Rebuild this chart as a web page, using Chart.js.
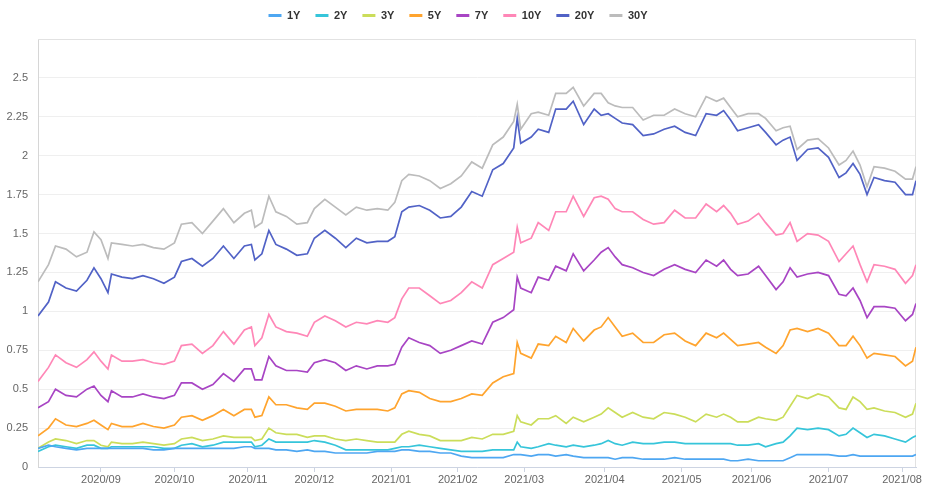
<!DOCTYPE html>
<html>
<head>
<meta charset="utf-8">
<script src="https://cdn.jsdelivr.net/npm/chart.js@4.4.1/dist/chart.umd.min.js"></script>
<style>
html, body { margin: 0; padding: 0; background: #fff; }
</style>
</head>
<body>
<canvas id="myChart" width="927" height="489"></canvas>
<script>
// sample dates (trading days)
var dates = [
  '2020-08-06','2020-08-11','2020-08-13','2020-08-18','2020-08-21','2020-08-26','2020-08-28',
  '2020-09-01','2020-09-03','2020-09-04','2020-09-10','2020-09-15','2020-09-18','2020-09-23','2020-09-28',
  '2020-10-01','2020-10-05','2020-10-08','2020-10-14','2020-10-19','2020-10-22','2020-10-27','2020-10-30',
  '2020-11-03','2020-11-04','2020-11-06','2020-11-10','2020-11-13','2020-11-18','2020-11-23','2020-11-27',
  '2020-12-01','2020-12-04','2020-12-09','2020-12-14','2020-12-17','2020-12-22','2020-12-28','2020-12-31',
  '2021-01-05','2021-01-07','2021-01-11','2021-01-14','2021-01-20','2021-01-25','2021-01-28',
  '2021-02-02','2021-02-05','2021-02-10','2021-02-16','2021-02-19','2021-02-24','2021-02-25','2021-02-26',
  '2021-03-03','2021-03-05','2021-03-10','2021-03-12','2021-03-17','2021-03-19','2021-03-24','2021-03-29','2021-03-31',
  '2021-04-02','2021-04-06','2021-04-08','2021-04-13','2021-04-16','2021-04-21','2021-04-26','2021-04-29',
  '2021-05-04','2021-05-07','2021-05-12','2021-05-17','2021-05-19','2021-05-21','2021-05-25','2021-05-28',
  '2021-06-03','2021-06-07','2021-06-10','2021-06-14','2021-06-16','2021-06-18','2021-06-23','2021-06-28',
  '2021-07-01','2021-07-07','2021-07-09','2021-07-13','2021-07-15','2021-07-19','2021-07-21','2021-07-26','2021-07-29',
  '2021-08-03','2021-08-05','2021-08-06'
];

var y1 = [
  0.12,0.14,0.13,0.12,0.11,0.12,0.12,
  0.12,0.12,0.12,0.12,0.12,0.12,0.11,0.11,
  0.12,0.12,0.12,0.12,0.12,0.12,0.12,0.13,
  0.13,0.12,0.12,0.12,0.11,0.11,0.10,0.11,
  0.10,0.10,0.09,0.09,0.09,0.09,0.10,0.10,
  0.10,0.11,0.11,0.10,0.10,0.09,0.09,
  0.07,0.06,0.06,0.06,0.06,0.08,0.08,0.08,
  0.07,0.08,0.08,0.07,0.08,0.07,0.06,0.06,0.06,
  0.06,0.05,0.06,0.06,0.05,0.05,0.05,0.06,
  0.05,0.05,0.05,0.05,0.05,0.04,0.04,0.05,
  0.04,0.04,0.04,0.04,0.06,0.08,0.08,0.08,
  0.08,0.07,0.07,0.08,0.07,0.07,0.07,0.07,0.07,
  0.07,0.07,0.08
];
var y2 = [
  0.10,0.13,0.14,0.13,0.12,0.14,0.14,
  0.12,0.12,0.13,0.13,0.13,0.13,0.13,0.12,
  0.12,0.14,0.15,0.13,0.14,0.16,0.16,0.16,
  0.16,0.13,0.14,0.18,0.16,0.16,0.16,0.16,
  0.17,0.16,0.14,0.11,0.11,0.11,0.11,0.11,
  0.12,0.13,0.13,0.14,0.13,0.12,0.11,
  0.10,0.10,0.10,0.11,0.11,0.11,0.16,0.13,
  0.12,0.13,0.15,0.14,0.13,0.14,0.13,0.14,0.15,
  0.17,0.15,0.14,0.16,0.15,0.15,0.16,0.16,
  0.15,0.15,0.15,0.15,0.15,0.15,0.14,0.14,
  0.15,0.13,0.15,0.16,0.20,0.25,0.24,0.25,
  0.24,0.20,0.21,0.25,0.22,0.19,0.21,0.20,0.18,
  0.16,0.19,0.20
];
var y3 = [
  0.12,0.16,0.18,0.17,0.15,0.17,0.17,
  0.14,0.13,0.16,0.15,0.15,0.16,0.15,0.14,
  0.15,0.18,0.19,0.17,0.18,0.20,0.19,0.19,
  0.19,0.17,0.18,0.25,0.22,0.21,0.21,0.19,
  0.20,0.20,0.18,0.17,0.18,0.17,0.16,0.16,
  0.16,0.21,0.23,0.21,0.20,0.17,0.17,
  0.17,0.19,0.18,0.21,0.21,0.23,0.33,0.29,
  0.27,0.31,0.31,0.33,0.28,0.32,0.29,0.32,0.34,
  0.38,0.35,0.32,0.35,0.32,0.31,0.35,0.34,
  0.32,0.29,0.34,0.32,0.34,0.32,0.29,0.29,
  0.32,0.31,0.30,0.32,0.39,0.46,0.44,0.47,
  0.45,0.38,0.37,0.45,0.42,0.37,0.38,0.36,0.35,
  0.32,0.34,0.41
];
var y5 = [
  0.20,0.25,0.31,0.27,0.26,0.28,0.30,
  0.27,0.24,0.28,0.26,0.26,0.28,0.26,0.25,
  0.27,0.32,0.33,0.30,0.33,0.37,0.33,0.37,
  0.37,0.32,0.33,0.45,0.40,0.40,0.38,0.37,
  0.41,0.41,0.39,0.36,0.37,0.37,0.37,0.36,
  0.38,0.47,0.49,0.48,0.44,0.42,0.42,
  0.44,0.47,0.46,0.54,0.58,0.60,0.80,0.73,
  0.70,0.79,0.78,0.84,0.80,0.89,0.81,0.88,0.90,
  0.96,0.90,0.84,0.86,0.80,0.80,0.85,0.86,
  0.81,0.78,0.86,0.83,0.86,0.82,0.78,0.79,
  0.80,0.77,0.73,0.78,0.88,0.89,0.87,0.89,
  0.86,0.78,0.78,0.84,0.78,0.70,0.73,0.72,0.71,
  0.65,0.68,0.77
];
var y7 = [
  0.38,0.42,0.50,0.46,0.45,0.50,0.52,
  0.46,0.42,0.49,0.45,0.45,0.47,0.45,0.44,
  0.46,0.54,0.54,0.50,0.53,0.60,0.55,0.63,
  0.63,0.56,0.56,0.71,0.65,0.62,0.62,0.61,
  0.67,0.69,0.67,0.62,0.65,0.63,0.65,0.65,
  0.66,0.77,0.83,0.80,0.78,0.73,0.75,
  0.78,0.81,0.79,0.93,0.96,1.01,1.22,1.15,
  1.12,1.22,1.20,1.29,1.26,1.37,1.26,1.33,1.38,
  1.41,1.35,1.30,1.28,1.25,1.23,1.27,1.30,
  1.27,1.25,1.33,1.29,1.33,1.27,1.23,1.24,
  1.29,1.23,1.14,1.19,1.28,1.22,1.24,1.25,
  1.23,1.11,1.10,1.15,1.07,0.96,1.03,1.03,1.02,
  0.94,0.98,1.05
];
var y10 = [
  0.55,0.64,0.72,0.67,0.64,0.69,0.74,
  0.68,0.63,0.72,0.68,0.68,0.69,0.67,0.66,
  0.68,0.78,0.79,0.73,0.78,0.87,0.79,0.88,
  0.90,0.78,0.83,0.98,0.90,0.87,0.86,0.84,
  0.93,0.97,0.94,0.90,0.93,0.92,0.94,0.93,
  0.96,1.08,1.15,1.15,1.10,1.05,1.07,
  1.12,1.19,1.15,1.30,1.34,1.38,1.54,1.44,
  1.47,1.57,1.52,1.64,1.64,1.74,1.61,1.73,1.74,
  1.72,1.66,1.64,1.64,1.59,1.56,1.57,1.65,
  1.60,1.60,1.69,1.64,1.68,1.63,1.56,1.58,
  1.63,1.57,1.49,1.50,1.57,1.45,1.50,1.49,
  1.45,1.32,1.37,1.42,1.30,1.19,1.30,1.29,1.27,
  1.18,1.23,1.30
];
var y20 = [
  0.97,1.06,1.19,1.15,1.13,1.20,1.28,
  1.21,1.12,1.24,1.22,1.21,1.23,1.21,1.18,
  1.22,1.32,1.34,1.29,1.34,1.42,1.34,1.42,
  1.43,1.33,1.37,1.52,1.43,1.40,1.36,1.37,
  1.47,1.52,1.47,1.41,1.47,1.44,1.45,1.45,
  1.48,1.64,1.67,1.68,1.65,1.60,1.61,
  1.67,1.77,1.74,1.91,1.95,2.05,2.24,2.08,
  2.12,2.17,2.15,2.30,2.30,2.35,2.20,2.30,2.26,
  2.27,2.24,2.21,2.20,2.13,2.14,2.17,2.19,
  2.15,2.13,2.27,2.26,2.29,2.23,2.16,2.18,
  2.20,2.15,2.07,2.10,2.12,1.97,2.04,2.05,
  1.99,1.86,1.89,1.95,1.88,1.75,1.86,1.84,1.83,
  1.75,1.75,1.84
];
var y30 = [
  1.19,1.30,1.42,1.40,1.35,1.38,1.51,
  1.46,1.34,1.44,1.43,1.42,1.43,1.41,1.40,
  1.44,1.56,1.57,1.50,1.58,1.66,1.57,1.63,
  1.65,1.54,1.57,1.74,1.64,1.61,1.56,1.57,
  1.66,1.72,1.67,1.62,1.67,1.65,1.66,1.65,
  1.70,1.84,1.88,1.87,1.84,1.79,1.82,
  1.87,1.96,1.92,2.07,2.12,2.22,2.33,2.17,
  2.27,2.28,2.26,2.40,2.40,2.44,2.32,2.40,2.40,
  2.34,2.32,2.31,2.31,2.23,2.26,2.26,2.30,
  2.27,2.25,2.38,2.35,2.37,2.31,2.25,2.27,
  2.27,2.24,2.16,2.18,2.19,2.04,2.10,2.11,
  2.05,1.94,1.97,2.03,1.94,1.80,1.93,1.92,1.90,
  1.85,1.85,1.93
];

var seriesNames = ['1Y', '2Y', '3Y', '5Y', '7Y', '10Y', '20Y', '30Y'];
var seriesValues = [y1, y2, y3, y5, y7, y10, y20, y30];
var seriesColors = ['#4ea7f2', '#36c5da', '#cbdd5a', '#ffa42e', '#a845c4', '#ff87b7', '#5162c6', '#bcbcbc'];

// x axis labels, placed on the first trading day of each month
var monthStarts = ['2020-09-01','2020-10-01','2020-11-02','2020-12-01','2021-01-04','2021-02-01',
                   '2021-03-01','2021-04-01','2021-05-03','2021-06-01','2021-07-01','2021-08-02'];
var monthLabels = ['2020/09','2020/10','2020/11','2020/12','2021/01','2021/02',
                   '2021/03','2021/04','2021/05','2021/06','2021/07','2021/08'];
var holidays = ['2020-09-07','2020-10-12','2020-11-11','2020-11-26','2020-12-25','2021-01-01',
                '2021-01-18','2021-02-15','2021-05-31','2021-07-05'];

// position on the axis = number of trading days since the first date
function tradingIndex(s) {
  var t = new Date(dates[0] + 'T00:00:00Z');
  var end = new Date(s + 'T00:00:00Z');
  var n = 0;
  while (t < end) {
    var wd = t.getUTCDay();
    if (wd > 0 && wd < 6 && holidays.indexOf(t.toISOString().slice(0, 10)) < 0) n++;
    t.setUTCDate(t.getUTCDate() + 1);
  }
  return n;
}

var xs = dates.map(tradingIndex);
var datasets = seriesNames.map(function (name, k) {
  return {
    label: name,
    data: seriesValues[k].map(function (v, i) { return { x: xs[i], y: v }; }),
    borderColor: seriesColors[k],
    backgroundColor: seriesColors[k],
    borderWidth: 1.7,
    pointRadius: 0,
    tension: 0
  };
});

// fixed legend height and plot frame
var layoutTweaks = {
  id: 'layoutTweaks',
  beforeLayout: function (chart) {
    if (chart.legend && !chart.legend._fixed) {
      var fit = chart.legend.fit;
      chart.legend.fit = function () { fit.call(this); this.height = 39; };
      chart.legend._fixed = true;
    }
  },
  afterLayout: function (chart) {
    chart.legend.top -= 5;
  },
  beforeDatasetsDraw: function (chart) {
    var a = chart.chartArea, c = chart.ctx;
    c.save();
    c.strokeStyle = '#e2e2e2';
    c.lineWidth = 1;
    c.beginPath();
    c.moveTo(a.left, a.top + 0.5);
    c.lineTo(a.right - 0.5, a.top + 0.5);
    c.lineTo(a.right - 0.5, a.bottom);
    c.stroke();
    c.restore();
  }
};

Chart.defaults.font.family = 'Liberation Sans, Arial, sans-serif';
Chart.defaults.font.size = 11;

var ctx = document.getElementById('myChart').getContext('2d');
var myChart = new Chart(ctx, {
  type: 'line',
  data: { datasets: datasets },
  plugins: [layoutTweaks],
  options: {
    responsive: false,
    animation: false,
    layout: { padding: { left: 0, right: 11, top: 0, bottom: 0 } },
    plugins: {
      tooltip: { enabled: false },
      legend: {
        position: 'top',
        labels: {
          boxWidth: 13,
          boxHeight: 3,
          padding: 15,
          color: '#333',
          font: { size: 11, weight: 'bold' },
          generateLabels: function (chart) {
            var items = Chart.defaults.plugins.legend.labels.generateLabels(chart);
            items.forEach(function (it) { it.lineWidth = 0; });
            return items;
          }
        }
      }
    },
    scales: {
      x: {
        type: 'linear',
        min: 0,
        max: xs[xs.length - 1],
        afterBuildTicks: function (scale) {
          scale.ticks = monthStarts.map(function (d) { return { value: tradingIndex(d) }; });
        },
        afterFit: function (scale) { scale.height = 22; },
        ticks: {
          autoSkip: false,
          maxRotation: 0,
          padding: 1,
          color: '#666',
          callback: function (v, i) { return monthLabels[i]; }
        },
        grid: { drawOnChartArea: false, drawTicks: true, tickLength: 5, color: '#cdd4e2' },
        border: { color: '#cdd4e2' }
      },
      y: {
        min: 0,
        max: 2.75,
        afterFit: function (scale) { scale.width = 38; },
        ticks: {
          stepSize: 0.25,
          padding: 10,
          color: '#666',
          callback: function (v) { return v >= 2.75 ? '' : String(+v.toFixed(2)); }
        },
        grid: { color: '#efefef', drawTicks: false },
        border: { color: '#d6d6d6' }
      }
    }
  }
});
</script>
</body>
</html>
